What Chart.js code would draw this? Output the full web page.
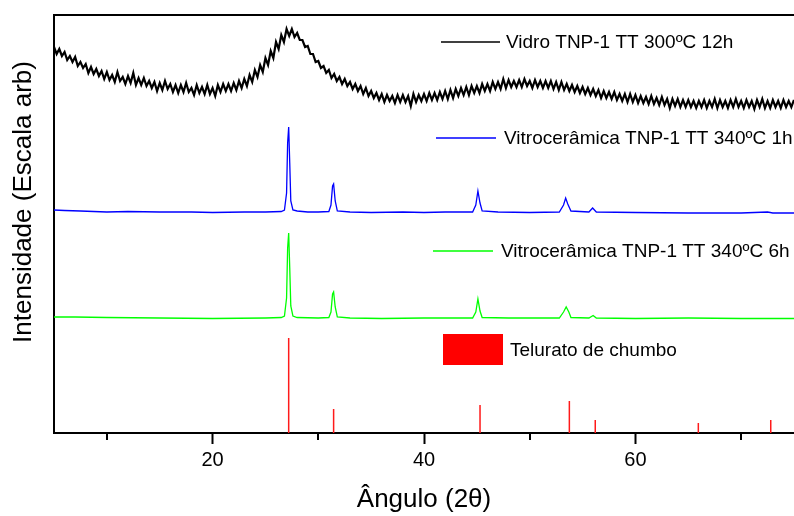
<!DOCTYPE html>
<html>
<head>
<meta charset="utf-8">
<script src="https://cdn.jsdelivr.net/npm/chart.js@4"></script>
<style>
  html, body { margin: 0; padding: 0; background: #fff; }
  canvas { display: block; }
</style>
</head>
<body>
<canvas id="xrd" width="794" height="516"></canvas>
<script>
// scan grid of the glass pattern (degrees 2theta)
const scanStart = 5;
const scanStep = 0.25;

// Vidro TNP-1 TT 300ºC 12h (noisy amorphous halo), one value per scan step
const glassIntensity = [
  386, 379, 384, 377, 381, 373, 377, 371, 376, 367, 371, 365, 369, 360, 366, 359,
  364, 357, 362, 354, 361, 353, 358, 351, 361, 352, 356, 349, 357, 350, 360, 348,
  355, 348, 355, 347, 352, 345, 351, 342, 350, 343, 352, 344, 349, 341, 348, 340,
  348, 341, 350, 341, 345, 338, 348, 340, 346, 339, 348, 339, 345, 337, 348, 341,
  349, 342, 349, 342, 350, 343, 352, 345, 354, 347, 358, 351, 363, 356, 368, 361,
  375, 368, 382, 375, 391, 384, 398, 391, 404, 397, 404, 396, 400, 393, 393, 386,
  387, 379, 379, 371, 372, 365, 367, 360, 363, 355, 359, 352, 356, 349, 354, 347,
  351, 344, 349, 342, 347, 339, 345, 337, 342, 335, 340, 333, 339, 331, 338, 332,
  337, 330, 338, 331, 338, 331, 337, 327, 339, 331, 338, 332, 339, 332, 340, 333,
  340, 333, 341, 334, 342, 334, 343, 335, 344, 337, 345, 338, 346, 338, 347, 340,
  347, 340, 349, 342, 349, 342, 351, 344, 351, 344, 354, 345, 353, 346, 352, 346,
  353, 346, 354, 347, 352, 345, 353, 346, 352, 345, 352, 345, 352, 344, 351, 343,
  351, 343, 349, 342, 348, 341, 347, 340, 346, 339, 345, 338, 344, 337, 343, 335,
  342, 335, 341, 334, 341, 333, 339, 332, 339, 331, 339, 331, 338, 330, 337, 330,
  336, 329, 337, 329, 335, 328, 336, 328, 334, 325, 334, 327, 334, 326, 333, 326,
  333, 326, 332, 325, 332, 326, 333, 325, 332, 326, 334, 325, 333, 326, 332, 325,
  333, 326, 334, 326, 332, 325, 333, 326, 332, 324, 333, 326, 334, 325, 332, 325,
  333, 326, 332, 325, 333, 326, 332, 326, 333
];

// Vitrocerâmica TNP-1 TT 340ºC 1h
const ceramic1hAngles = [
  5, 6, 7.5, 10, 12, 15, 18, 20, 23, 25, 26.5, 26.8, 27, 27.1, 27.2, 27.3, 27.4, 27.6, 28,
  29, 30, 31, 31.2, 31.35, 31.45, 31.6, 31.8, 33, 35, 38, 40, 42, 44.6, 44.9, 45.1, 45.3,
  45.5, 47, 50, 52.8, 53.2, 53.4, 53.6, 53.9, 55.6, 55.95, 56.3, 60, 65, 70, 72.5, 73, 75
];
const ceramic1hIntensity = [
  223, 222.5, 222, 221, 221.5, 221, 221, 220.5, 221, 221, 221.5, 223, 240, 290, 306, 270, 232, 223, 222,
  221, 221, 221.5, 228, 247, 249, 232, 222, 221, 220.5, 221, 220.5, 221, 221, 228, 242, 230,
  222, 221, 220.5, 221, 228, 235, 229, 222, 221, 225, 221, 220.5, 220, 220, 221, 220, 220
];

// Vitrocerâmica TNP-1 TT 340ºC 6h
const ceramic6hAngles = [
  5, 7, 10, 15, 20, 25, 26.5, 26.8, 27, 27.1, 27.2, 27.3, 27.4, 27.6, 28, 30, 31, 31.2,
  31.35, 31.45, 31.6, 31.8, 33, 36, 40, 44.6, 44.9, 45.1, 45.3, 45.5, 48, 52.8, 53.2, 53.45,
  53.7, 53.9, 55.6, 56, 56.3, 60, 65, 70, 75
];
const ceramic6hIntensity = [
  116, 116, 115.5, 115, 114.5, 115, 115.5, 117, 135, 185, 200, 165, 127, 117, 115.5, 115, 115.5, 121,
  139, 141, 126, 116, 115, 114.5, 115, 115, 121, 134, 122, 115.5, 115, 115, 121, 126,
  121, 115.5, 115, 117.5, 115, 114.5, 115, 114.5, 114.5
];

// Telurato de chumbo reference lines
const refAngles = [27.2, 31.45, 45.3, 53.75, 56.2, 65.95, 72.8];
const refIntensity = [95, 24, 28, 32, 13, 10, 13];

const minorTicks = [10, 30, 50, 70];
const majorTicks = [20, 40, 60];

const FONT = '"Liberation Sans", Arial, sans-serif';
Chart.defaults.font.family = FONT;
Chart.defaults.color = '#000';

function pairs(xs, ys) {
  return xs.map((x, i) => ({ x: x, y: ys[i] }));
}

const glassData = glassIntensity.map((y, i) => ({ x: scanStart + i * scanStep, y: y }));

const stickData = [];
refAngles.forEach((x, i) => {
  stickData.push({ x: x, y: 0 }, { x: x, y: refIntensity[i] }, { x: x, y: null });
});

const legendItems = [
  { kind: 'line', color: '#000000', x0: 441, x1: 500, y: 42, tx: 506, text: 'Vidro TNP-1 TT 300ºC 12h' },
  { kind: 'line', color: '#0000ff', x0: 436, x1: 496, y: 138, tx: 504, text: 'Vitrocerâmica TNP-1 TT 340ºC 1h' },
  { kind: 'line', color: '#00ff00', x0: 433, x1: 493, y: 251, tx: 501, text: 'Vitrocerâmica TNP-1 TT 340ºC 6h' },
  { kind: 'box', color: '#ff0000', x0: 443, x1: 503, y: 350, tx: 510, text: 'Telurato de chumbo' }
];

const decorations = {
  id: 'decorations',
  afterDraw(chart) {
    const ctx = chart.ctx;
    const area = chart.chartArea;
    const xs = chart.scales.x;
    ctx.save();
    // top frame
    ctx.strokeStyle = '#000';
    ctx.lineWidth = 2;
    ctx.beginPath();
    ctx.moveTo(area.left - 1, area.top);
    ctx.lineTo(area.right + 2, area.top);
    ctx.stroke();
    // minor ticks
    minorTicks.forEach(v => {
      const px = Math.round(xs.getPixelForValue(v));
      ctx.beginPath();
      ctx.moveTo(px, area.bottom);
      ctx.lineTo(px, area.bottom + 7);
      ctx.stroke();
    });
    // y title
    ctx.fillStyle = '#000';
    ctx.font = '26px ' + FONT;
    ctx.textAlign = 'center';
    ctx.textBaseline = 'middle';
    ctx.translate(24, 202);
    ctx.rotate(-Math.PI / 2);
    ctx.fillText('Intensidade (Escala arb)', 0, 0);
    ctx.restore();

    // legend entries placed next to each pattern
    ctx.save();
    ctx.font = '19px ' + FONT;
    ctx.textAlign = 'left';
    ctx.textBaseline = 'middle';
    legendItems.forEach(it => {
      if (it.kind === 'line') {
        ctx.strokeStyle = it.color;
        ctx.lineWidth = 1.5;
        ctx.beginPath();
        ctx.moveTo(it.x0, it.y);
        ctx.lineTo(it.x1, it.y);
        ctx.stroke();
      } else {
        ctx.fillStyle = it.color;
        ctx.fillRect(it.x0, it.y - 16, it.x1 - it.x0, 31);
      }
      ctx.fillStyle = '#000';
      ctx.fillText(it.text, it.tx, it.y + 1);
    });
    ctx.restore();
  }
};

new Chart(document.getElementById('xrd'), {
  type: 'line',
  data: {
    datasets: [
      { label: 'Vidro TNP-1 TT 300ºC 12h', data: glassData, borderColor: '#000000', borderWidth: 2.2, pointRadius: 0, tension: 0 },
      { label: 'Vitrocerâmica TNP-1 TT 340ºC 1h', data: pairs(ceramic1hAngles, ceramic1hIntensity), borderColor: '#0000ff', borderWidth: 1.3, pointRadius: 0, tension: 0 },
      { label: 'Vitrocerâmica TNP-1 TT 340ºC 6h', data: pairs(ceramic6hAngles, ceramic6hIntensity), borderColor: '#00ff00', borderWidth: 1.3, pointRadius: 0, tension: 0 },
      { label: 'Telurato de chumbo', data: stickData, borderColor: '#ff1a1a', borderWidth: 1.5, pointRadius: 0, spanGaps: false }
    ]
  },
  options: {
    responsive: false,
    animation: false,
    devicePixelRatio: 1,
    layout: { padding: { top: 15, right: 0, left: 0, bottom: 0 } },
    plugins: { legend: { display: false }, tooltip: { enabled: false } },
    scales: {
      x: {
        type: 'linear',
        min: 5,
        max: 75,
        afterBuildTicks: s => { s.ticks = majorTicks.map(v => ({ value: v })); },
        afterFit: s => { s.height = 83; },
        ticks: { font: { size: 20 }, color: '#000', padding: 4, maxRotation: 0, autoSkip: false },
        grid: { drawOnChartArea: false, drawTicks: true, tickLength: 11, tickWidth: 2, tickColor: '#000' },
        border: { color: '#000', width: 2 },
        title: { display: true, text: 'Ângulo (2θ)', font: { size: 26 }, color: '#000', padding: { top: 0, bottom: 1 } }
      },
      y: {
        min: 0,
        max: 418,
        afterFit: s => { s.width = 54; },
        ticks: { display: false },
        grid: { display: false },
        border: { color: '#000', width: 2 }
      }
    }
  },
  plugins: [decorations]
});
</script>
</body>
</html>
